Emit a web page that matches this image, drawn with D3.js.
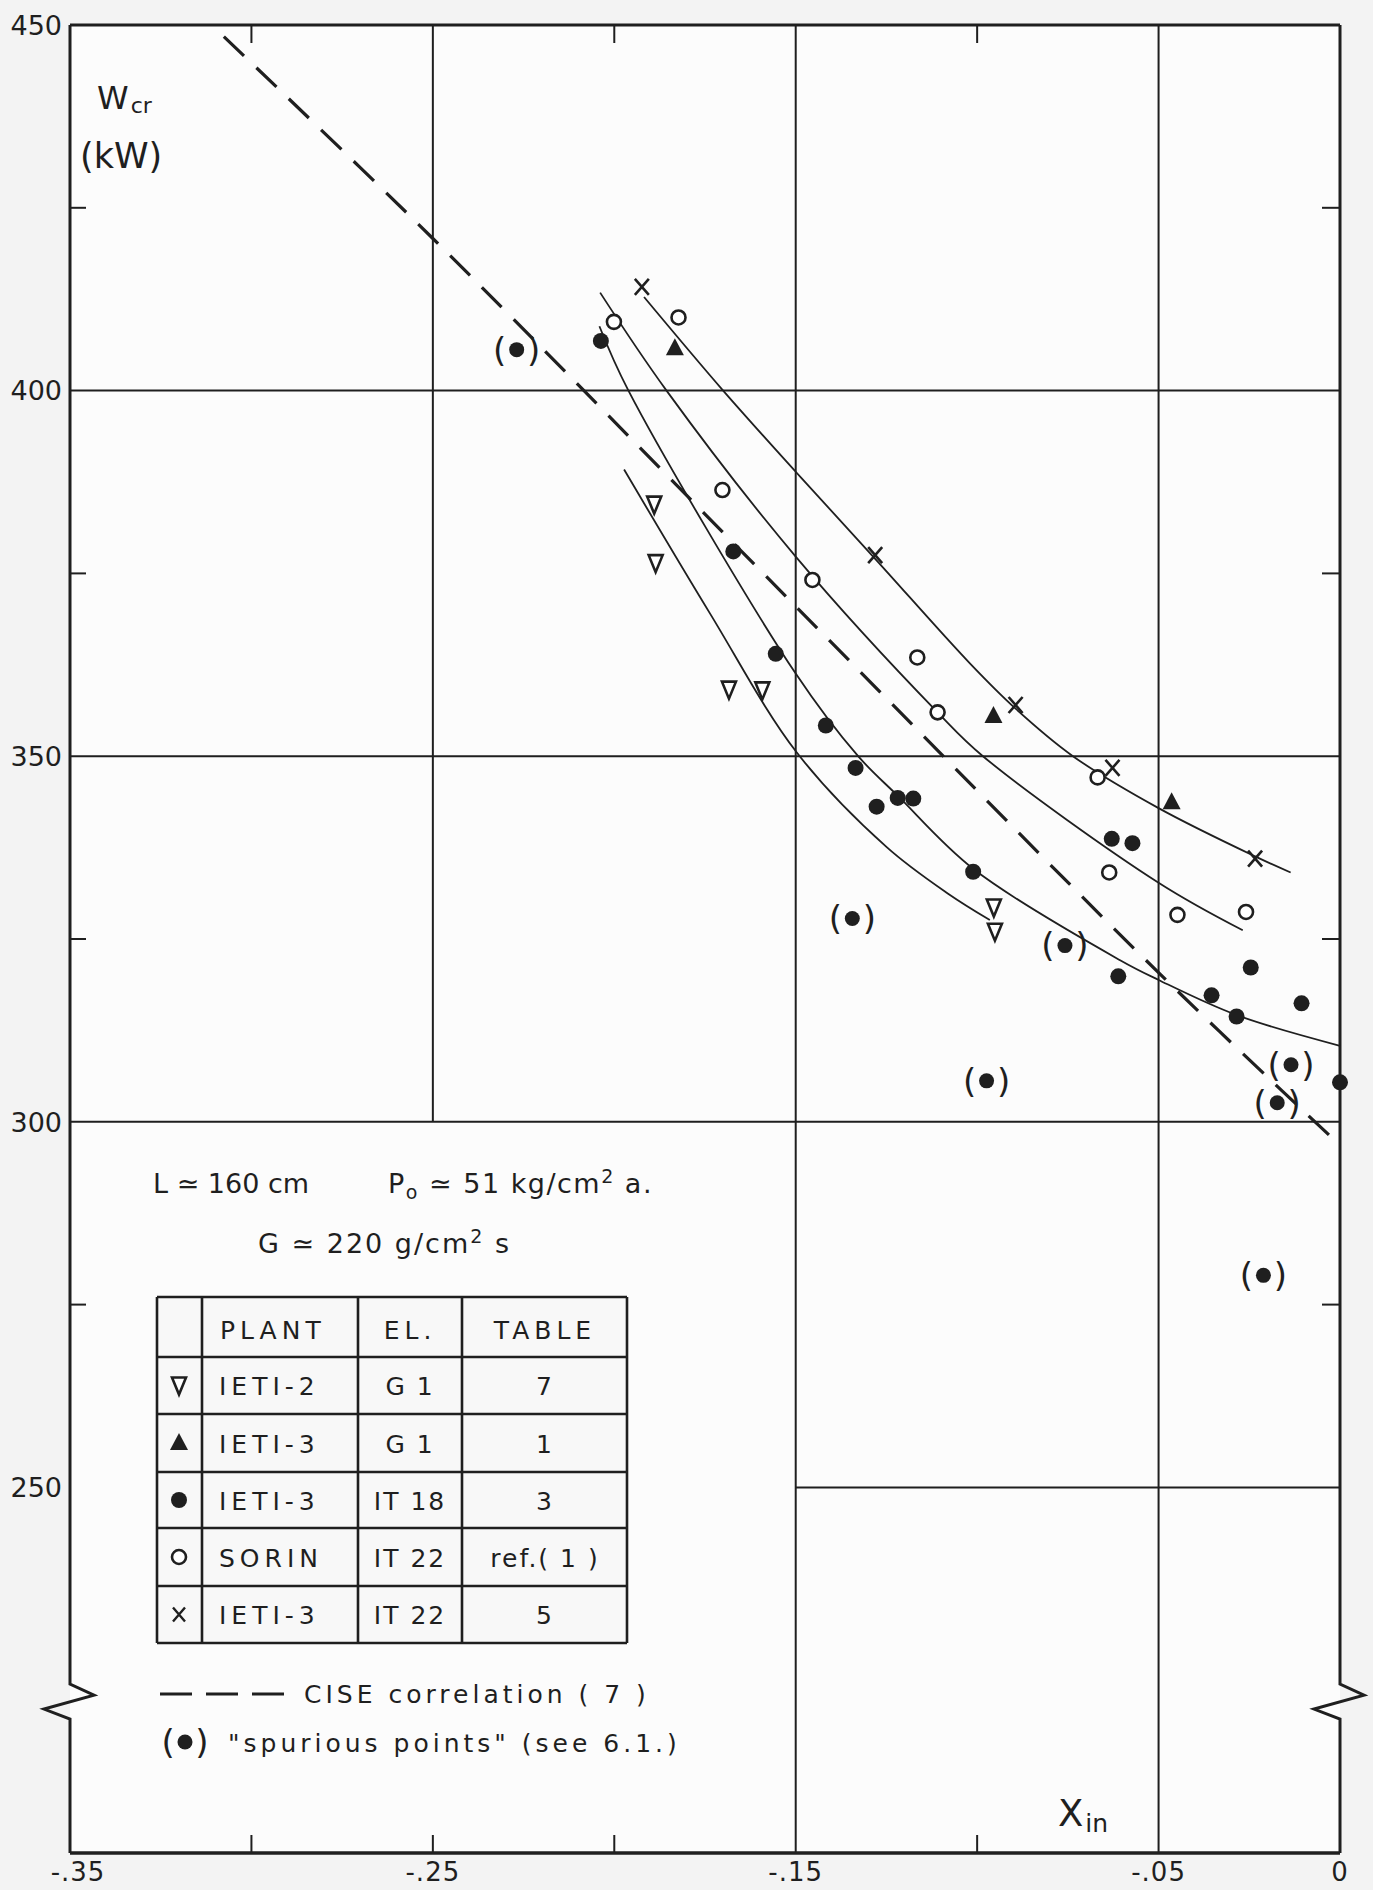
<!DOCTYPE html>
<html>
<head>
<meta charset="utf-8">
<script src="https://cdn.jsdelivr.net/npm/d3@7/dist/d3.min.js"></script>
<style>
  html, body { margin: 0; padding: 0; background: #f3f3f3; }
  svg { display: block; font-family: "DejaVu Sans", sans-serif; }
</style>
</head>
<body>
<svg id="chart" width="1373" height="1890"></svg>
<script>
// ---- data (x = X_in, y = W_cr in kW) ----
const ieti2G1 = [[-0.1890, 384.4], [-0.1886, 376.4], [-0.1684, 359.1], [-0.1592, 359.0], [-0.0954, 329.3], [-0.0951, 326.0]];
const ieti3G1 = [[-0.1833, 405.8], [-0.0955, 355.5], [-0.0464, 343.7]];
const ieti3IT18 = [[-0.2037, 406.8], [-0.1672, 378.0], [-0.1555, 364.0], [-0.1417, 354.2], [-0.1335, 348.4],
  [-0.1277, 343.1], [-0.1219, 344.3], [-0.1176, 344.2], [-0.1011, 334.2], [-0.0629, 338.7], [-0.0572, 338.1],
  [-0.0611, 319.9], [-0.0354, 317.3], [-0.0285, 314.4], [-0.0246, 321.1], [-0.0106, 316.2], [0, 305.4]];
const sorinIT22 = [[-0.2001, 409.4], [-0.1823, 410.0], [-0.1702, 386.4], [-0.1454, 374.1], [-0.1165, 363.5],
  [-0.1109, 356.0], [-0.0668, 347.1], [-0.0636, 334.1], [-0.0448, 328.3], [-0.0259, 328.7]];
const ieti3IT22 = [[-0.1924, 414.2], [-0.1281, 377.5], [-0.0894, 357.0], [-0.0627, 348.4], [-0.0234, 336.0]];
const spurious = [[-0.2269, 405.6], [-0.1344, 327.8], [-0.0758, 324.1], [-0.0974, 305.6], [-0.0135, 307.8],
  [-0.0173, 302.6], [-0.0211, 279.0]];

// hand-drawn fit curves
const fitIT22 = [[-0.1918, 412.8], [-0.170, 400], [-0.150, 388.9], [-0.1281, 377.0], [-0.102, 362.7],
  [-0.0894, 356.5], [-0.0736, 350], [-0.050, 342.9], [-0.0234, 336.3], [-0.0136, 334.1]];
const fitSorin = [[-0.2039, 413.4], [-0.1856, 400], [-0.150, 377.3], [-0.1109, 356.0], [-0.0984, 350],
  [-0.050, 332.7], [-0.0268, 326.2]];
const fitIT18 = [[-0.2041, 408.8], [-0.1961, 400], [-0.150, 361.3], [-0.1328, 350], [-0.1219, 344.6],
  [-0.1011, 334.6], [-0.0606, 322.1], [-0.050, 319.4], [-0.0285, 314.6], [0, 310.4]];
const fitIETI2 = [[-0.1973, 389.2], [-0.1736, 369.5], [-0.1497, 350.5], [-0.1250, 337.6], [-0.1080, 331.2],
  [-0.0965, 327.6]];
const ciseCorrelation = [[-0.3076, 448.4], [-0.250, 420.8], [-0.150, 370.5], [-0.050, 320.4], [0, 296.8]];

// axes
const xLabelTicks = [-0.35, -0.25, -0.15, -0.05, 0];
const xLabelText = ["-.35", "-.25", "-.15", "-.05", "0"];
const yLabelTicks = [450, 400, 350, 300, 250];
const yMinorTicks = [425, 375, 325, 275];
const xTopTicks = [-0.30, -0.20, -0.10];
const xBottomTicks = [-0.30, -0.25, -0.20, -0.10];
const gridVertical = [[-0.25, 300, 450], [-0.15, 200, 450], [-0.05, 200, 450]];
const gridHorizontal = [[400, -0.35, 0], [350, -0.35, 0], [300, -0.35, 0], [250, -0.15, 0]];
const axisBreakAt = 223.1;

// legend table
const tableHeader = ["PLANT", "EL.", "TABLE"];
const tableSymbols = ["invTri", "triUp", "dot", "ring", "cross"];
const tablePlant = ["IETI-2", "IETI-3", "IETI-3", "SORIN", "IETI-3"];
const tableEl = ["G 1", "G 1", "IT 18", "IT 22", "IT 22"];
const tableRef = ["7", "1", "3", "ref.( 1 )", "5"];

const ink = "#1f1f1f";
const svg = d3.select("#chart");

const x = d3.scaleLinear().domain([-0.35, 0]).range([70, 1340]);
const y = d3.scaleLinear().domain([200, 450]).range([1853, 25]);

// paper
svg.append("rect").attr("width", 1373).attr("height", 1890).attr("fill", "#f3f3f3");
svg.append("rect")
  .attr("x", x(-0.35)).attr("y", y(450))
  .attr("width", x(0) - x(-0.35)).attr("height", y(200) - y(450))
  .attr("fill", "#fcfcfc");

// grid
svg.append("g").selectAll("line").data(gridVertical).join("line")
  .attr("x1", d => x(d[0])).attr("x2", d => x(d[0]))
  .attr("y1", d => y(d[2])).attr("y2", d => y(d[1]))
  .attr("stroke", ink).attr("stroke-width", 2);
svg.append("g").selectAll("line").data(gridHorizontal).join("line")
  .attr("y1", d => y(d[0])).attr("y2", d => y(d[0]))
  .attr("x1", d => x(d[1])).attr("x2", d => x(d[2]))
  .attr("stroke", ink).attr("stroke-width", 2);

// frame with axis breaks
const yb = y(axisBreakAt);
function sideWithBreak(x0) {
  return `M${x0},${y(450)} L${x0},${yb} L${x0 + 24},${yb + 11} L${x0 - 26},${yb + 25} L${x0},${yb + 35} L${x0},${y(200)}`;
}
svg.append("path").attr("d", sideWithBreak(x(-0.35)))
  .attr("fill", "none").attr("stroke", ink).attr("stroke-width", 3).attr("stroke-linejoin", "miter");
svg.append("path").attr("d", sideWithBreak(x(0)))
  .attr("fill", "none").attr("stroke", ink).attr("stroke-width", 3).attr("stroke-linejoin", "miter");
svg.append("line").attr("x1", x(-0.35)).attr("x2", x(0)).attr("y1", y(450)).attr("y2", y(450))
  .attr("stroke", ink).attr("stroke-width", 3);
svg.append("line").attr("x1", x(-0.35)).attr("x2", x(0)).attr("y1", y(200)).attr("y2", y(200))
  .attr("stroke", ink).attr("stroke-width", 3.5);

// ticks
const ticks = svg.append("g").attr("stroke", ink).attr("stroke-width", 2);
ticks.selectAll(".tl").data(yMinorTicks).join("line").attr("class", "tl")
  .attr("x1", x(-0.35)).attr("x2", x(-0.35) + 16).attr("y1", d => y(d)).attr("y2", d => y(d));
ticks.selectAll(".tr").data(yMinorTicks).join("line").attr("class", "tr")
  .attr("x1", x(0) - 18).attr("x2", x(0)).attr("y1", d => y(d)).attr("y2", d => y(d));
ticks.selectAll(".tt").data(xTopTicks).join("line").attr("class", "tt")
  .attr("x1", d => x(d)).attr("x2", d => x(d)).attr("y1", y(450)).attr("y2", y(450) + 18);
ticks.selectAll(".tb").data(xBottomTicks).join("line").attr("class", "tb")
  .attr("x1", d => x(d)).attr("x2", d => x(d)).attr("y1", y(200) - 18).attr("y2", y(200));

// tick labels
svg.append("g").selectAll("text").data(yLabelTicks).join("text")
  .attr("x", 62).attr("y", d => y(d)).attr("dy", "0.36em")
  .attr("text-anchor", "end").attr("font-size", 27).attr("fill", ink)
  .text(d => d);
svg.append("g").selectAll("text").data(xLabelTicks).join("text")
  .attr("x", (d, i) => x(d) + (i === 0 ? 8 : 0)).attr("y", 1881)
  .attr("text-anchor", "middle").attr("font-size", 26).attr("letter-spacing", 1).attr("fill", ink)
  .text((d, i) => xLabelText[i]);

// axis titles
const wTitle = svg.append("text").attr("x", 97).attr("y", 109).attr("fill", ink);
wTitle.append("tspan").attr("font-size", 32).text("W");
wTitle.append("tspan").attr("font-size", 22).attr("dx", 2).attr("dy", 4).text("cr");
svg.append("text").attr("x", 80).attr("y", 168).attr("font-size", 35).attr("fill", ink).text("(kW)");
const xTitle = svg.append("text").attr("x", 1058).attr("y", 1826).attr("fill", ink);
xTitle.append("tspan").attr("font-size", 37).text("X");
xTitle.append("tspan").attr("font-size", 25).attr("dx", 2).attr("dy", 6).text("in");

// curves
const curve = d3.line().x(d => x(d[0])).y(d => y(d[1])).curve(d3.curveCatmullRom.alpha(0.5));
const fits = svg.append("g").attr("fill", "none").attr("stroke", ink).attr("stroke-width", 1.8);
[fitIT22, fitSorin, fitIT18, fitIETI2].forEach(f => fits.append("path").attr("d", curve(f)));
svg.append("path").attr("d", curve(ciseCorrelation))
  .attr("fill", "none").attr("stroke", ink).attr("stroke-width", 3.2)
  .attr("stroke-dasharray", "28 17");

// markers
function drawMarker(sel, type) {
  if (type === "dot") {
    sel.append("circle").attr("r", 8).attr("fill", ink);
  } else if (type === "ring") {
    sel.append("circle").attr("r", 7).attr("fill", "#fff").attr("stroke", ink).attr("stroke-width", 2.6);
  } else if (type === "triUp") {
    sel.append("path").attr("d", "M0,-10 L9,7 L-9,7 Z").attr("fill", ink);
  } else if (type === "invTri") {
    sel.append("path").attr("d", "M-7,-8 L7,-8 L0,9 Z").attr("fill", "#fff")
      .attr("stroke", ink).attr("stroke-width", 2.6).attr("stroke-linejoin", "miter");
  } else if (type === "cross") {
    sel.append("path").attr("d", "M-7,-8 L7,8 M7,-8 L-7,8").attr("stroke", ink).attr("stroke-width", 2.6);
  } else if (type === "spurious") {
    sel.append("circle").attr("r", 7.5).attr("fill", ink);
    sel.append("text").attr("x", -17).attr("dy", "0.35em").attr("text-anchor", "middle")
      .attr("font-size", 34).attr("fill", ink).text("(");
    sel.append("text").attr("x", 17).attr("dy", "0.35em").attr("text-anchor", "middle")
      .attr("font-size", 34).attr("fill", ink).text(")");
  }
}
function drawSeries(data, type) {
  svg.append("g").selectAll("g").data(data).join("g")
    .attr("transform", d => `translate(${x(d[0])},${y(d[1])})`)
    .each(function () { drawMarker(d3.select(this), type); });
}
drawSeries(ieti2G1, "invTri");
drawSeries(ieti3G1, "triUp");
drawSeries(ieti3IT18, "dot");
drawSeries(sorinIT22, "ring");
drawSeries(ieti3IT22, "cross");
drawSeries(spurious, "spurious");

// conditions text
const t1 = svg.append("text").attr("x", 153).attr("y", 1193).attr("font-size", 27).attr("fill", ink);
t1.append("tspan").text("L \u2243 160 cm");
const t2 = svg.append("text").attr("x", 388).attr("y", 1193).attr("font-size", 27)
  .attr("letter-spacing", 1.5).attr("fill", ink);
t2.append("tspan").text("P");
t2.append("tspan").attr("font-size", 19).attr("dy", 6).text("o");
t2.append("tspan").attr("dy", -6).text(" \u2243 51  kg/cm");
t2.append("tspan").attr("font-size", 19).attr("dy", -10).text("2");
t2.append("tspan").attr("dy", 10).text(" a.");
const t3 = svg.append("text").attr("x", 258).attr("y", 1253).attr("font-size", 27)
  .attr("letter-spacing", 2).attr("fill", ink);
t3.append("tspan").text("G \u2243 220 g/cm");
t3.append("tspan").attr("font-size", 19).attr("dy", -10).text("2");
t3.append("tspan").attr("dy", 10).text("  s");

// legend table
const colX = [157, 202, 358, 462, 627];
const rowY = [1297, 1357, 1414, 1472, 1528, 1586, 1643];
const tbl = svg.append("g");
tbl.append("rect").attr("x", colX[0]).attr("y", rowY[0])
  .attr("width", colX[4] - colX[0]).attr("height", rowY[6] - rowY[0]).attr("fill", "#f8f8f8");
tbl.selectAll(".v").data(colX).join("line").attr("class", "v")
  .attr("x1", d => d).attr("x2", d => d).attr("y1", rowY[0]).attr("y2", rowY[6])
  .attr("stroke", ink).attr("stroke-width", 2.6);
tbl.selectAll(".h").data(rowY).join("line").attr("class", "h")
  .attr("y1", d => d).attr("y2", d => d).attr("x1", colX[0]).attr("x2", colX[4])
  .attr("stroke", ink).attr("stroke-width", 2.6);
const headerX = [220, 410, 545];
const headerAnchor = ["start", "middle", "middle"];
tbl.selectAll(".hd").data(tableHeader).join("text").attr("class", "hd")
  .attr("x", (d, i) => headerX[i]).attr("y", 1339)
  .attr("text-anchor", (d, i) => headerAnchor[i])
  .attr("font-size", 25).attr("letter-spacing", 5).attr("fill", ink).text(d => d);
const rows = tbl.selectAll(".row").data(tableSymbols).join("g").attr("class", "row")
  .attr("transform", (d, i) => `translate(0,${(rowY[i + 1] + rowY[i + 2]) / 2})`);
rows.append("g").attr("transform", "translate(179,0)").each(function (d) {
  const g = d3.select(this);
  if (d === "cross") {
    g.append("path").attr("d", "M-6,-7 L6,7 M6,-7 L-6,7").attr("stroke", ink).attr("stroke-width", 2.4);
  } else {
    drawMarker(g, d);
  }
});
rows.append("text").attr("x", 219).attr("dy", "0.38em").attr("font-size", 25)
  .attr("letter-spacing", 5).attr("fill", ink).text((d, i) => tablePlant[i]);
rows.append("text").attr("x", 410).attr("dy", "0.38em").attr("text-anchor", "middle")
  .attr("font-size", 25).attr("letter-spacing", 2).attr("fill", ink).text((d, i) => tableEl[i]);
rows.append("text").attr("x", 545).attr("dy", "0.38em").attr("text-anchor", "middle")
  .attr("font-size", 25).attr("letter-spacing", 2).attr("fill", ink).text((d, i) => tableRef[i]);

// legend lines
svg.append("line").attr("x1", 160).attr("x2", 284).attr("y1", 1694).attr("y2", 1694)
  .attr("stroke", ink).attr("stroke-width", 3.2).attr("stroke-dasharray", "32 14");
svg.append("text").attr("x", 304).attr("y", 1703).attr("font-size", 25).attr("letter-spacing", 4)
  .attr("fill", ink).text("CISE  correlation ( 7 )");
const sp = svg.append("g").attr("transform", "translate(185,1742)");
drawMarker(sp, "spurious");
svg.append("text").attr("x", 228).attr("y", 1752).attr("font-size", 25).attr("letter-spacing", 4)
  .attr("fill", ink).text("\"spurious  points\"  (see 6.1.)");
</script>
</body>
</html>
